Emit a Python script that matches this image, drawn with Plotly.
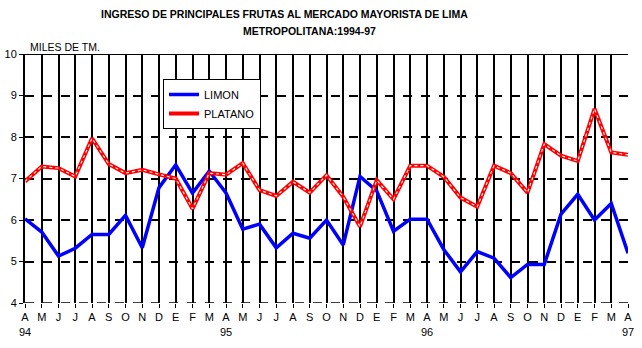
import plotly.graph_objects as go

months = ["A","M","J","J","A","S","O","N","D",
          "E","F","M","A","M","J","J","A","S","O","N","D",
          "E","F","M","A","M","J","J","A","S","O","N","D",
          "E","F","M","A"]
years = {0: "94", 12: "95", 24: "96", 36: "97"}

limon = [6.03,5.71,5.13,5.32,5.65,5.65,6.11,5.33,6.78,
         7.33,6.65,7.18,6.65,5.78,5.90,5.33,5.68,5.56,6.00,5.40,7.05,
         6.70,5.73,6.02,6.02,5.29,4.75,5.24,5.08,4.61,4.93,4.93,6.14,
         6.62,6.00,6.40,5.20]
platano = [6.93,7.29,7.25,7.05,7.97,7.35,7.13,7.21,7.10,
           7.00,6.27,7.13,7.09,7.37,6.72,6.58,6.92,6.66,7.08,6.56,5.84,
           6.96,6.50,7.31,7.31,7.04,6.54,6.32,7.31,7.13,6.66,7.83,7.55,
           7.42,8.68,7.63,7.57]

x = list(range(len(months)))
ticktext = [m + ("<br>" + years[i] if i in years else "") for i, m in enumerate(months)]

fig = go.Figure()
fig.add_trace(go.Scatter(x=x, y=limon, mode="lines", name="LIMON",
                         line=dict(color="#0000ff", width=3.5)))
fig.add_trace(go.Scatter(x=x, y=platano, mode="lines", name="PLATANO",
                         line=dict(color="#ff0000", width=4)))
fig.add_trace(go.Scatter(x=x, y=platano, mode="lines", showlegend=False,
                         hoverinfo="skip",
                         line=dict(color="#ffffff", width=1.1, dash="dot")))

fig.update_layout(
    width=642, height=348,
    margin=dict(l=25, r=14, t=54, b=45),
    paper_bgcolor="white", plot_bgcolor="white",
    font=dict(family="Arial, Liberation Sans", size=11, color="black"),
    showlegend=True,
    legend=dict(x=(163-25)/603, y=(303-79)/249, xanchor="left", yanchor="top",
                bgcolor="white", bordercolor="black", borderwidth=1,
                font=dict(size=11), itemwidth=30, tracegroupgap=0),
    xaxis=dict(range=[0, 36], tickmode="array", tickvals=x, ticktext=ticktext,
               showgrid=True, gridcolor="black", gridwidth=1.6,
               ticks="outside", ticklen=4, tickcolor="black", tickwidth=1,
               showline=False, zeroline=False, fixedrange=True,
               automargin=False),
    yaxis=dict(range=[4, 10], dtick=1, tick0=4,
               showgrid=True, gridcolor="black", gridwidth=1.5, griddash="dash",
               showline=True, linecolor="black", linewidth=2,
               ticks="outside", ticklen=4, tickcolor="black",
               zeroline=False, fixedrange=True, automargin=False),
    shapes=[dict(type="line", xref="paper", yref="y", x0=0, x1=1, y0=10, y1=10,
                 line=dict(color="black", width=2)),
            dict(type="line", xref="paper", yref="y", x0=0, x1=1, y0=4, y1=4,
                 line=dict(color="black", width=1.5, dash="dash"))],
    annotations=[
        dict(text="<b>INGRESO DE PRINCIPALES FRUTAS AL MERCADO MAYORISTA DE LIMA</b>",
             xref="paper", yref="paper", x=(99-25)/603, y=1+(54-14)/249,
             xanchor="left", yanchor="middle", showarrow=False,
             font=dict(size=10.5)),
        dict(text="<b>METROPOLITANA:1994-97</b>",
             xref="paper", yref="paper", x=(241-25)/603, y=1+(54-31)/249,
             xanchor="left", yanchor="middle", showarrow=False,
             font=dict(size=10.5)),
        dict(text="MILES DE TM.", xref="paper", yref="paper",
             x=(28-25)/603, y=1+(54-47)/249, xanchor="left", yanchor="middle",
             showarrow=False, font=dict(size=10.5)),
    ],
)

fig.write_html("out.html")
